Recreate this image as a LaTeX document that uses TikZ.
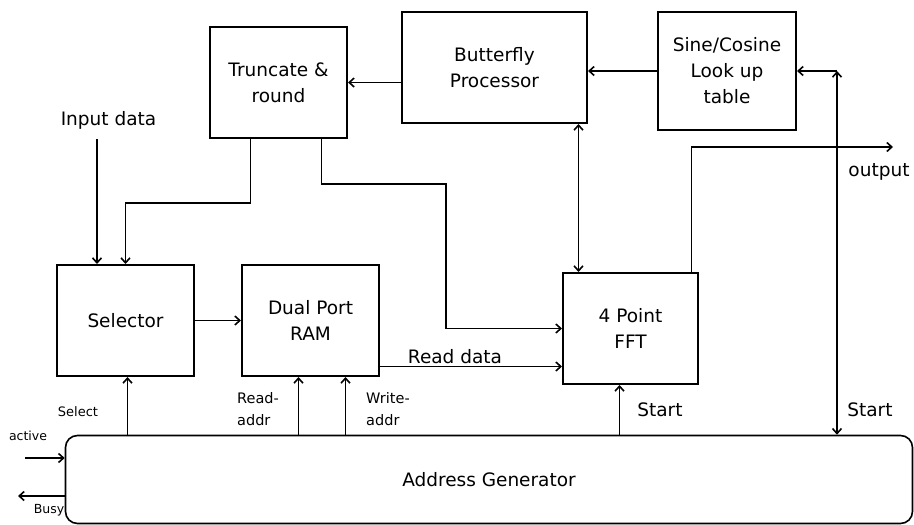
\documentclass[tikz,border=0pt]{standalone}
\usepackage{fontspec}
\setmainfont{DejaVu Sans}
\usetikzlibrary{arrows.meta}
\tikzset{
  blk/.style={draw,line width=2pt,minimum height=111pt,align=center,inner sep=0pt,
    font=\fontsize{18.5}{26}\selectfont},
  lbl/.style={inner sep=0pt,font=\fontsize{18.5}{22}\selectfont},
  sml/.style={inner sep=0pt,align=left,font=\fontsize{14.5}{22}\selectfont},
  wire/.style={line width=1.6pt}
}
\begin{document}
\begin{tikzpicture}[x=1pt,y=-1pt,>={Straight Barb[length=5pt,width=9pt]}]
\useasboundingbox (0,0) rectangle (914,525);

% blocks
\node[blk,minimum width=137pt] (trunc) at (278.5,82.5) {Truncate \&\\round};
\node[blk,minimum width=185pt] (bfly) at (494.5,67.5) {Butterfly\\Processor};
\node[blk,minimum width=138pt,minimum height=118pt] (sine) at (727,71) {Sine/Cosine\\Look up\\table};
\node[blk,minimum width=137pt] (sel) at (125.5,320.5) {Selector};
\node[blk,minimum width=137pt] (ram) at (310.5,320.5) {Dual Port\\RAM};
\node[blk,minimum width=135pt] (fft) at (630.5,328.5) {4 Point\\FFT};
\node[blk,line width=1.6pt,rounded corners=12pt,minimum width=847pt,minimum height=88pt] (agen) at (489,479.5) {Address Generator};

% labels
\node[lbl] (indata) at (108.5,120) {Input data};
\node[lbl] (outlbl) at (879,172) {output};
\node[lbl] (rdlbl) at (455,357) {Read data};
\node[lbl] (st1) at (660,410) {Start};
\node[lbl] (st2) at (870,410) {Start};
\node[sml,font=\fontsize{13}{20}\selectfont] (sellbl) at (78,412) {Select};
\node[sml] (rdaddr) at (258,409) {Read-\\addr};
\node[sml] (wraddr) at (388,409) {Write-\\addr};
\node[sml,font=\fontsize{12.5}{20}\selectfont] (actlbl) at (28,436) {active};
\node[sml,font=\fontsize{12.5}{20}\selectfont] (busylbl) at (49,510) {Busy};

\coordinate (inp) at (97,139);
\coordinate (stc) at ([xshift=40pt]sine.east);
\coordinate (outend) at (893,147);
\coordinate (actin) at (25,458);
\coordinate (busyout) at (18,496);

% connectors
\draw[wire,->] (bfly.west |- trunc.east) -- (trunc.east);
\draw[wire,->] (sine.west) -- (sine.west -| bfly.east);
\draw[wire,->] (inp) -- (inp |- sel.north);
\draw[wire,->] ([xshift=-28pt]trunc.south) -- ++(0,64) -| (sel.north);
\draw[wire,->] ([xshift=43pt]trunc.south) -- ++(0,45) -| ([xshift=-116pt]fft.west) -- (fft.west);
\draw[wire,<->] ([xshift=84pt]bfly.south) -- ([xshift=84pt]bfly.south |- fft.north);
\draw[wire,->] ([xshift=61pt]fft.north) |- (outend);
\draw[wire,<->] (stc |- agen.north) -- (stc);
\draw[wire,->] (stc) -- (sine.east);
\draw[wire,->] ([xshift=-11pt]fft.south |- agen.north) -- ([xshift=-11pt]fft.south);
\draw[wire,->] ([xshift=2pt]sel.south |- agen.north) -- ([xshift=2pt]sel.south);
\draw[wire,->] ([xshift=-12pt]ram.south |- agen.north) -- ([xshift=-12pt]ram.south);
\draw[wire,->] ([xshift=35pt]ram.south |- agen.north) -- ([xshift=35pt]ram.south);
\draw[wire,->] (sel.east) -- (ram.west);
\draw[wire,->] ([yshift=-46pt]ram.east) -- ([yshift=-46pt]ram.east -| fft.west);
\draw[wire,->] (actin) -- (actin -| agen.west);
\draw[wire,->] (busyout -| agen.west) -- (busyout);
\end{tikzpicture}
\end{document}
